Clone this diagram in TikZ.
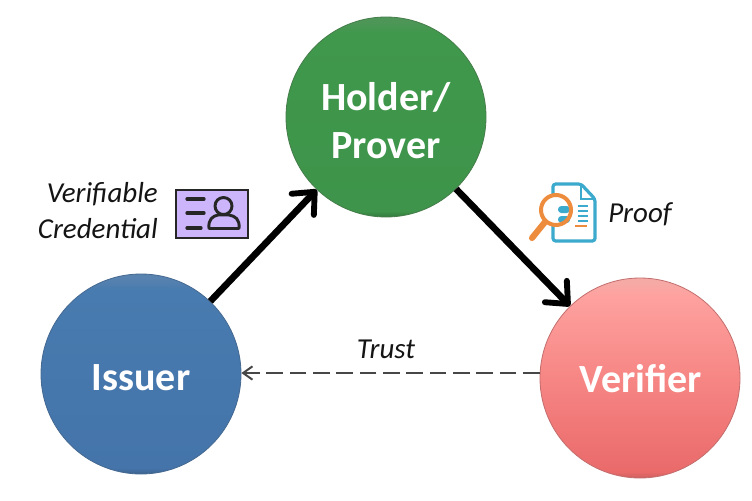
\documentclass[tikz,border=0pt]{standalone}
\usepackage{fontspec}
\setmainfont{Carlito}
\usetikzlibrary{arrows.meta}
\definecolor{cardfill}{RGB}{204,181,250}
\definecolor{docblue}{RGB}{60,170,205}
\definecolor{lensorange}{RGB}{238,140,62}
\definecolor{greenedge}{RGB}{70,125,75}
\definecolor{blueedge}{RGB}{70,105,145}
\definecolor{rededge}{RGB}{195,110,110}
\definecolor{ga}{RGB}{52,122,62}
\definecolor{gb}{RGB}{61,148,74}
\definecolor{gc}{RGB}{64,152,76}
\definecolor{gd}{RGB}{78,150,88}
\definecolor{ge}{RGB}{120,165,125}
\definecolor{ba}{RGB}{60,98,140}
\definecolor{bb}{RGB}{68,116,170}
\definecolor{bc}{RGB}{72,123,175}
\definecolor{bd}{RGB}{88,130,175}
\definecolor{be}{RGB}{130,160,190}
\definecolor{ra}{RGB}{205,95,95}
\definecolor{rb}{RGB}{234,106,106}
\definecolor{rm}{RGB}{246,134,132}
\definecolor{rc}{RGB}{254,162,160}
\definecolor{rd}{RGB}{245,170,166}
\definecolor{re}{RGB}{240,185,180}
\pgfdeclareverticalshading{greenball}{100bp}{color(0bp)=(ga);color(25bp)=(ga);color(26.5bp)=(gb);color(71bp)=(gc);color(74bp)=(gd);color(100bp)=(ge)}
\pgfdeclareverticalshading{blueball}{100bp}{color(0bp)=(ba);color(25bp)=(ba);color(26.5bp)=(bb);color(71bp)=(bc);color(74bp)=(bd);color(100bp)=(be)}
\pgfdeclareverticalshading{redball}{100bp}{color(0bp)=(ra);color(25bp)=(ra);color(26.5bp)=(rb);color(50bp)=(rm);color(71bp)=(rc);color(74bp)=(rd);color(100bp)=(re)}
\tikzset{
  x=0.75pt,y=-0.75pt,
  ball/.style={circle,minimum size=150pt,inner sep=0pt,line width=0.6pt},
  balltext/.style={inner sep=0pt,align=center,text=white,
    font=\fontsize{30}{36}\selectfont\bfseries},
  bigarrow/.style={line width=5pt,-{Straight Barb[length=13pt,width=23pt,line width=4.4pt,round]}},
  trustarrow/.style={line width=1.5pt,draw=black!72,dash pattern=on 12.5pt off 5pt,-{Straight Barb[length=7pt,width=10pt,line width=1.5pt]}},
  caption/.style={inner sep=0pt,text=black!92,font=\fontsize{21.7}{27}\selectfont\itshape,align=right},
}
\begin{document}
\begin{tikzpicture}
\useasboundingbox (0,0) rectangle (752,500);
\fill[white] (0,0) rectangle (752,500);
\node[ball,shading=greenball,draw=greenedge] (holder) at (386,117) {};
\node[ball,shading=blueball,draw=blueedge] (issuer) at (141,374) {};
\node[ball,shading=redball,draw=rededge] (verifier) at (640,378) {};
\node[balltext] (holdertext) at (386,121) {Holder/\\Prover};
\node[balltext] (issuertext) at (141,378) {Issuer};
\node[balltext] (verifiertext) at (641,379) {Verifier};
\draw[bigarrow] (issuer) -- (holder);
\draw[bigarrow] (holder) -- (verifier);
\coordinate (trustfrom) at (verifier.west|-0,373);
\coordinate (trustto) at (issuer.east|-0,373);
\draw[trustarrow] (trustfrom) -- (trustto);
\node[caption,anchor=east] (vc) at (158,211) {Verifiable\\Credential};
\node[caption,anchor=center] (trust) at (386,349) {Trust};
\node[caption,anchor=west] (proof) at (608,214) {Proof};
% credential card
\fill[cardfill,draw=black!85,line width=2pt] (176,190) rectangle (248,238);
\draw[line width=2.4pt,black!85,line cap=round] (187,199)--(204,199) (187,213)--(204,213) (187,228)--(201,228);
\draw[line width=2.2pt,black!85] (223.5,206) circle[radius=8.5];
\draw[line width=2.2pt,black!85,line join=round] (209,228.5) .. controls (208,219) and (213,216) .. (218,215) -- (229,215) .. controls (235,216) and (240,219) .. (239,228.5) -- cycle;
% proof icon
\draw[docblue,line width=2.4pt,line join=round,rounded corners=2pt] (553,184) -- (581,184) -- (595,199) -- (595,241) -- (553,241) -- cycle;
\draw[docblue,line width=1.8pt] (581,184) -- (581,199) -- (595,199);
\draw[docblue,line width=1.7pt] (578,206)--(588,206) (578,211)--(588,211) (578,216)--(588,216) (578,221)--(588,221);
\fill[white] (556,210) circle[radius=16];
\fill[docblue,rounded corners=2.5pt] (558,206) rectangle (570,213);
\fill[docblue,rounded corners=2.5pt] (558,216) rectangle (570,223);
\draw[lensorange,line width=1.6pt] (575,226)--(587,226);
\draw[lensorange,line width=3pt] (556,210) circle[radius=15];
\draw[lensorange,line width=4.6pt,line cap=round] (545,222) -- (532,238);
\end{tikzpicture}
\end{document}
